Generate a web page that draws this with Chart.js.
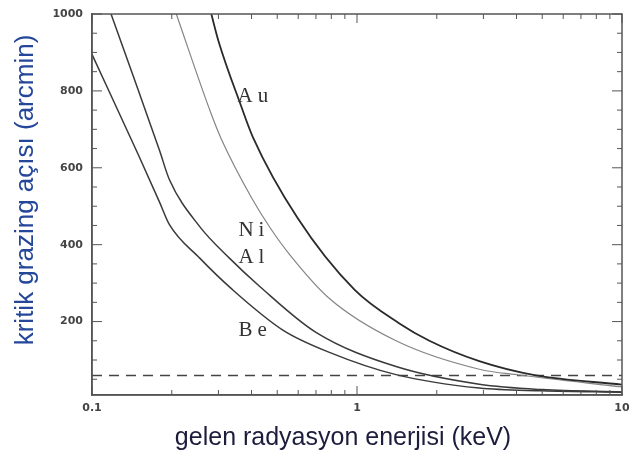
<!DOCTYPE html>
<html>
<head>
<meta charset="utf-8">
<script src="https://cdn.jsdelivr.net/npm/chart.js@4/dist/chart.umd.min.js"></script>
<style>
  html, body { margin: 0; padding: 0; background: #ffffff; }
  canvas { display: block; }
</style>
</head>
<body>
<canvas id="c" width="629" height="455"></canvas>
<script>
// ---- data ----
const beEnergy = [0.1, 0.15, 0.18, 0.196, 0.255, 0.339, 0.525, 0.787, 1.404, 2.893, 5, 10];
const beAngle  = [895, 632, 510, 452, 365, 283, 178, 120, 62, 27, 20, 16];

const alEnergy = [0.118, 0.15, 0.18, 0.196, 0.255, 0.33, 0.4286, 0.70, 1.404, 2.893, 5, 10];
const alAngle  = [1000, 799, 644, 569, 447, 365, 292, 172, 83, 37, 23, 17];

const niEnergy = [0.208, 0.28, 0.3075, 0.40, 0.47, 0.556, 0.787, 1.404, 2.893, 4.09, 10];
const niAngle  = [1000, 745, 675, 522, 444, 375, 260, 150, 76, 61, 30];

const auEnergy = [0.282, 0.3, 0.3656, 0.4045, 0.596, 0.978, 1.445, 1.875, 2.893, 4.73, 10];
const auAngle  = [1000, 930, 760, 680, 470, 283, 195, 150, 97, 60, 36];

const dashEnergy = [0.1, 10];
const dashAngle  = [60, 60];

const curveNames  = ["Au", "Ni", "Al", "Be"];
const labelEnergy = [0.354, 0.357, 0.357, 0.357];
const labelAngle  = [785, 436, 366, 178];

const xTickValues = [0.1, 1, 10];
const xTickLabels = ["0.1", "1", "10"];
const yTickValues = [200, 400, 600, 800, 1000];
const yTickLabels = ["200", "400", "600", "800", "1000"];
const yMinorValues = [50,100,150,250,300,350,450,500,550,650,700,750,850,900,950];
const xMinorValues = [0.2,0.3,0.4,0.5,0.6,0.7,0.8,0.9,2,3,4,5,6,7,8,9];

const xTitle = "gelen radyasyon enerjisi (keV)";
const yTitle = "kritik grazing açısı (arcmin)";

function pts(xs, ys) { return xs.map((x, i) => ({ x: x, y: ys[i] })); }

// ---- plugin: frame, inward tick marks, in-plot labels, axis titles ----
const decor = {
  id: 'decor',
  afterDatasetsDraw(chart) {
    const ctx = chart.ctx;
    const a = chart.chartArea;
    const xs = chart.scales.x, ys = chart.scales.y;
    ctx.save();
    ctx.strokeStyle = '#555';
    ctx.lineWidth = 1.5;
    ctx.strokeRect(a.left, a.top, a.right - a.left, a.bottom - a.top);
    ctx.lineWidth = 1;
    ctx.beginPath();
    yMinorValues.forEach(v => {
      const py = ys.getPixelForValue(v);
      ctx.moveTo(a.left, py); ctx.lineTo(a.left + 5, py);
      ctx.moveTo(a.right, py); ctx.lineTo(a.right - 5, py);
    });
    yTickValues.forEach(v => {
      const py = ys.getPixelForValue(v);
      ctx.moveTo(a.left, py); ctx.lineTo(a.left + 10, py);
      ctx.moveTo(a.right, py); ctx.lineTo(a.right - 10, py);
    });
    xMinorValues.forEach(v => {
      const px = xs.getPixelForValue(v);
      ctx.moveTo(px, a.bottom); ctx.lineTo(px, a.bottom - 5);
      ctx.moveTo(px, a.top); ctx.lineTo(px, a.top + 5);
    });
    xTickValues.forEach(v => {
      const px = xs.getPixelForValue(v);
      ctx.moveTo(px, a.bottom); ctx.lineTo(px, a.bottom - 9);
      ctx.moveTo(px, a.top); ctx.lineTo(px, a.top + 9);
    });
    ctx.stroke();

    // curve labels
    ctx.fillStyle = '#333';
    ctx.font = '21px "Liberation Serif", "DejaVu Serif", serif';
    ctx.textAlign = 'left';
    ctx.textBaseline = 'middle';
    try { ctx.letterSpacing = '5px'; } catch (e) {}
    curveNames.forEach((n, i) => {
      ctx.fillText(n, xs.getPixelForValue(labelEnergy[i]), ys.getPixelForValue(labelAngle[i]));
    });
    try { ctx.letterSpacing = '0px'; } catch (e) {}

    // axis titles
    ctx.textAlign = 'center';
    ctx.textBaseline = 'middle';
    ctx.font = '25px "Liberation Sans", Arial, sans-serif';
    ctx.fillStyle = '#1c1c3c';
    ctx.fillText(xTitle, 343, 438);
    ctx.save();
    ctx.translate(26, 190);
    ctx.rotate(-Math.PI / 2);
    ctx.font = '26px "Liberation Sans", Arial, sans-serif';
    ctx.fillStyle = '#24479a';
    ctx.fillText(yTitle, 0, 0);
    ctx.restore();
    ctx.restore();
  }
};

const lineBase = { pointRadius: 0, fill: false, cubicInterpolationMode: 'monotone' };
const tickFont = { family: '"DejaVu Sans", sans-serif', size: 11, weight: 'bold' };

new Chart(document.getElementById('c'), {
  type: 'line',
  data: {
    datasets: [
      Object.assign({ label: 'Au', data: pts(auEnergy, auAngle), borderColor: '#2a2a2a', borderWidth: 1.8 }, lineBase),
      Object.assign({ label: 'Ni', data: pts(niEnergy, niAngle), borderColor: '#858585', borderWidth: 1.2 }, lineBase),
      Object.assign({ label: 'Al', data: pts(alEnergy, alAngle), borderColor: '#3a3a3a', borderWidth: 1.5 }, lineBase),
      Object.assign({ label: 'Be', data: pts(beEnergy, beAngle), borderColor: '#3a3a3a', borderWidth: 1.5 }, lineBase),
      { label: 'limit', data: pts(dashEnergy, dashAngle), borderColor: '#444', borderWidth: 1.5,
        borderDash: [10, 7], pointRadius: 0, fill: false, tension: 0 }
    ]
  },
  options: {
    responsive: false,
    animation: false,
    events: [],
    layout: { padding: { top: 14, right: 7, left: 0, bottom: 0 } },
    plugins: { legend: { display: false }, tooltip: { enabled: false }, title: { display: false } },
    scales: {
      x: {
        type: 'logarithmic',
        min: 0.1, max: 10,
        grid: { display: false, drawTicks: false },
        border: { display: true, color: '#555', width: 1.5 },
        afterBuildTicks: s => { s.ticks = xTickValues.map(v => ({ value: v })); },
        afterFit: s => { s.height = 60; s.paddingLeft = 0; s.paddingRight = 0; },
        ticks: {
          autoSkip: false, maxRotation: 0, padding: 7,
          color: '#444', font: tickFont,
          callback: (v) => { const i = xTickValues.indexOf(v); return i >= 0 ? xTickLabels[i] : ''; }
        }
      },
      y: {
        type: 'linear',
        min: 9, max: 1000,
        grid: { display: false, drawTicks: false },
        border: { display: true, color: '#555', width: 1.5 },
        afterBuildTicks: s => { s.ticks = yTickValues.map(v => ({ value: v })); },
        afterFit: s => { s.width = 92; s.paddingTop = 0; s.paddingBottom = 0; },
        ticks: {
          autoSkip: false, padding: 9,
          color: '#444', font: tickFont,
          callback: (v) => { const i = yTickValues.indexOf(v); return i >= 0 ? yTickLabels[i] : ''; }
        }
      }
    }
  },
  plugins: [decor]
});
</script>
</body>
</html>
